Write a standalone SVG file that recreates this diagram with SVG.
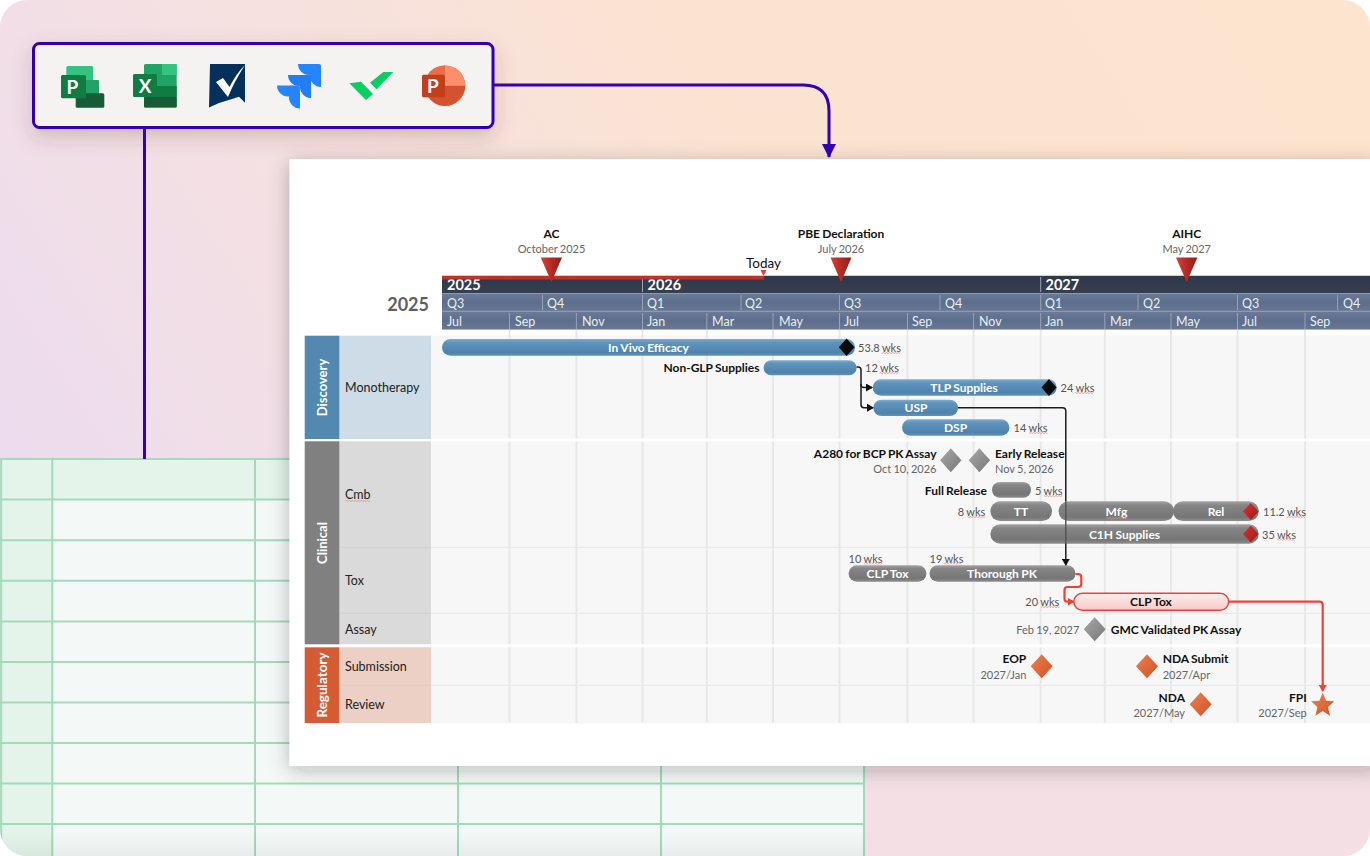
<svg xmlns="http://www.w3.org/2000/svg" width="1370" height="856" viewBox="0 0 1370 856">
<style>
text{font-family:"Lato","Liberation Sans",sans-serif;font-size:12.5px;dominant-baseline:central}
.b{font-weight:700;fill:#111;font-size:12px;word-spacing:-.7px}
.g{fill:#666;font-size:11px;word-spacing:-.5px}
.d{fill:#555;font-size:11px;word-spacing:-.4px}
.w{fill:#fff;text-anchor:middle;font-weight:700;font-size:12px;word-spacing:-.5px}
.m{text-anchor:middle}
.e{text-anchor:end}
.hd{fill:#e6f0f2;font-size:12.5px}
.yr{fill:#fff;font-weight:700;font-size:14.5px}
.rl{fill:#222;font-size:12.5px}
.cat{fill:#fff;font-weight:700;font-size:13px;text-anchor:middle}
.sq{fill:url(#wv)}
.tl{stroke:#a1dbb9;stroke-width:2;fill:none}
.grid{stroke:#e7e8e9;stroke-width:2;fill:none}
.sep{stroke:#e3e8e8;stroke-width:1;fill:none}
.ln{stroke:#9aa3b4;stroke-width:1;fill:none}
.blue{fill:url(#gb)}
.gray{fill:url(#gg)}
.k{fill:none;stroke:#1c1c1c;stroke-width:1.5}
.r{fill:none;stroke:#ee4236;stroke-width:2.2}
.vi{fill:none;stroke:#3300b3;stroke-width:3}
.tri{fill:url(#gt)}
.dg{fill:url(#gd)}
.do{fill:url(#go)}
.dr{fill:url(#gr)}
</style>
<defs>
<clipPath id="page"><rect width="1370" height="856" rx="27"/></clipPath>
<pattern id="wv" width="3" height="2" patternUnits="userSpaceOnUse"><path d="M0 1.500L1.500 .5L3 1.500" fill="none" stroke="#e58a8a" stroke-width=".8"/></pattern>
<linearGradient id="bg" x1="0" y1="0.62" x2="1" y2="0.22"><stop offset="0" stop-color="#ebdbef"/><stop offset=".3" stop-color="#f4e0e3"/><stop offset=".62" stop-color="#fbe3d2"/><stop offset="1" stop-color="#fde4cf"/></linearGradient>
<linearGradient id="bg2" x1="0" y1="0" x2="0" y2="1"><stop offset=".55" stop-color="#f4e0e4" stop-opacity="0"/><stop offset=".9" stop-color="#f4e0e4"/></linearGradient>
<linearGradient id="tf" x1="0" y1="0" x2="0" y2="1"><stop offset="0" stop-color="#000" stop-opacity="0"/><stop offset="1" stop-color="#000" stop-opacity=".05"/></linearGradient>
<linearGradient id="gb" x1="0" y1="0" x2="0" y2="1"><stop offset="0" stop-color="#7cafd3"/><stop offset=".2" stop-color="#5f95bd"/><stop offset=".8" stop-color="#5083ab"/><stop offset="1" stop-color="#5f92b8"/></linearGradient>
<linearGradient id="gg" x1="0" y1="0" x2="0" y2="1"><stop offset="0" stop-color="#a5a5a5"/><stop offset=".2" stop-color="#858585"/><stop offset=".8" stop-color="#767676"/><stop offset="1" stop-color="#8e8e8e"/></linearGradient>
<linearGradient id="gp" x1="0" y1="0" x2="0" y2="1"><stop offset="0" stop-color="#fdeeee"/><stop offset="1" stop-color="#f8c9c7"/></linearGradient>
<linearGradient id="gt" x1="0" y1="0" x2="1" y2="0"><stop offset="0" stop-color="#d3423a"/><stop offset=".5" stop-color="#b52a24"/><stop offset="1" stop-color="#8d1e1a"/></linearGradient>
<linearGradient id="gd" x1="0" y1="0" x2="1" y2="1"><stop offset="0" stop-color="#a8a8a8"/><stop offset="1" stop-color="#777"/></linearGradient>
<linearGradient id="go" x1="0" y1="0" x2="1" y2="1"><stop offset="0" stop-color="#ee8150"/><stop offset="1" stop-color="#cf5228"/></linearGradient>
<linearGradient id="gr" x1="0" y1="0" x2="1" y2="1"><stop offset="0" stop-color="#d83232"/><stop offset="1" stop-color="#a01818"/></linearGradient>
<linearGradient id="gy" x1="0" y1="0" x2="0" y2="1"><stop offset="0" stop-color="#2f384a"/><stop offset="1" stop-color="#363f50"/></linearGradient>
<linearGradient id="gq" x1="0" y1="0" x2="0" y2="1"><stop offset="0" stop-color="#6a7a98"/><stop offset=".5" stop-color="#5d6d8c"/><stop offset="1" stop-color="#677794"/></linearGradient>
<filter id="sh1" x="-20%" y="-40%" width="140%" height="190%"><feDropShadow dx="0" dy="8" stdDeviation="10" flood-color="#5a3a3a" flood-opacity=".22"/></filter>
<filter id="sh2" x="-6%" y="-6%" width="112%" height="112%"><feDropShadow dx="0" dy="4" stdDeviation="10" flood-color="#222" flood-opacity=".27"/></filter>
<marker id="ak" markerWidth="7" markerHeight="8" refX="6" refY="4" orient="auto" markerUnits="userSpaceOnUse"><path d="M0 0L7 4L0 8z" fill="#111"/></marker>
<marker id="ar" markerWidth="7" markerHeight="8" refX="6" refY="4" orient="auto" markerUnits="userSpaceOnUse"><path d="M0 0L7 4L0 8z" fill="#ee4236"/></marker>
<marker id="av" markerWidth="15" markerHeight="14" refX="13" refY="7" orient="auto" markerUnits="userSpaceOnUse"><path d="M0 0L14 7L0 14z" fill="#3300b3"/></marker>
<path id="jira" d="M298 64C298 70 303 75 309 75H310V76C310 82 315 87 321 87V66Q321 64 319 64Z"/>
</defs>
<g clip-path="url(#page)">
<g id="background"><rect width="1370" height="856" fill="url(#bg)"/><rect width="1370" height="856" fill="url(#bg2)"/></g>
<g id="spreadsheet">
<rect x="1" y="459" width="863" height="397" fill="#f4f9f7"/>
<rect x="1" y="459" width="863" height="40.500" fill="#e4f4ea"/>
<rect x="1" y="459" width="51" height="397" fill="#e4f4ea"/>
<path class="tl" d="M0 459H864M0 499.600H864M0 540.200H864M0 580.800H864M0 621.400H864M0 662H864M0 702.500H864M0 743H864M0 783.500H864M0 824H864M1.200 459V856M52.300 459V856M255 459V856M458 459V856M661 459V856M864 459V856"/>
<rect x="0" y="830" width="865" height="26" fill="url(#tf)"/>
</g>
<g id="connectors-top">
<path d="M144.500 128V459" class="vi"/>
<path d="M493 85H803Q829 85 829 111V157" class="vi" marker-end="url(#av)"/>
</g>
<g id="toolbar">
<rect x="33.500" y="43.500" width="459.500" height="84" rx="6" fill="#f5f3f1" stroke="#3300b3" stroke-width="3" filter="url(#sh1)"/>
<g id="icon-project"><rect x="66.300" y="66" width="27" height="25" rx="1.500" fill="#33c481"/><rect x="76" y="80" width="23" height="15" rx="1" fill="#21a366"/><rect x="75.700" y="93.300" width="28.600" height="14.400" rx="1.500" fill="#185c37"/><rect x="61" y="75" width="25" height="23.300" rx="1.500" fill="#107c41"/><text x="72.500" y="86.500" style="font-size:19px;font-weight:700;fill:#fff;text-anchor:middle">P</text></g>
<g id="icon-excel"><rect x="144" y="64" width="32.700" height="43.500" rx="1.500" fill="#21a366"/><rect x="162" y="64" width="14.700" height="11" fill="#33c481"/><rect x="144" y="86" width="32.700" height="11" fill="#107c41"/><rect x="144" y="97" width="32.700" height="10.500" rx="1" fill="#185c37"/><rect x="133" y="74" width="24" height="23" rx="1.500" fill="#107c41"/><text x="145" y="85.500" style="font-size:19px;font-weight:700;fill:#fff;text-anchor:middle">X</text></g>
<g id="icon-smartsheet"><path d="M210 64H245V102.700L239 96.700L232 99Q220 102 209 107.500Z" fill="#06305c"/><path d="M216 82L223 78L229.500 87Q236 74 245 65Q234 82 228 97Z" fill="#fff"/></g>
<g id="icon-jira" fill="#2684ff"><use href="#jira"/><use href="#jira" x="-10" y="11" fill="#217cf5"/><use href="#jira" x="-21" y="21.500"/></g>
<g id="icon-wrike"><path d="M349.300 83.300L361 81.700L373 94L366 100Z" fill="#08cf65"/><path d="M383.300 72H393.300L376.700 89.300L370 82.700Z" fill="#08cf65"/></g>
<g id="icon-powerpoint"><circle cx="445" cy="85.700" r="20.300" fill="#d35230"/><path d="M445 65.400A20.300 20.300 0 0 1 465.300 85.700H445Z" fill="#ff8f6b"/><path d="M445 65.400A20.300 20.300 0 0 0 424.700 85.700H445Z" fill="#ed6c47"/><rect x="422" y="74.700" width="23" height="22.600" rx="1.500" fill="#c43e1c"/><text x="433" y="85.500" style="font-size:19px;font-weight:700;fill:#fff;text-anchor:middle">P</text></g>
</g>
<g id="panel"><rect x="289.500" y="159" width="1090" height="607" fill="#fff" filter="url(#sh2)"/></g>
<g id="grid">
<rect x="431" y="335.500" width="939" height="388" fill="#f7f7f7"/>
<path class="grid" d="M509.500 330V723M576.400 330V723M642.500 330V723M706.800 330V723M773 330V723M839.500 330V723M907.500 330V723M973.600 330V723M1040.700 330V723M1104.800 330V723M1171 330V723M1237.500 330V723M1305 330V723"/>
<path d="M304 440H1370M304 645.700H1370" stroke="#fff" stroke-width="3"/>
<path class="sep" d="M340 547.300H1370M340 613.300H1370M340 685.300H1370"/>
</g>
<g id="timescale">
<rect x="442" y="275.500" width="928" height="54" fill="#98a2b4"/>
<rect x="442" y="276" width="928" height="17" fill="url(#gy)"/>
<rect x="442" y="293.800" width="928" height="17" fill="url(#gq)"/>
<rect x="442" y="311.800" width="928" height="17.500" fill="url(#gq)"/>
<path class="ln" d="M642.500 277V292M1040.700 277V292M542.500 295V310M642.500 295V310M741 295V310M839.500 295V310M940 295V310M1040.700 295V310M1138 295V310M1237.500 295V310M1337.600 295V310M509.500 313V329M576.400 313V329M642.500 313V329M706.800 313V329M773 313V329M839.500 313V329M907.500 313V329M973.600 313V329M1040.700 313V329M1104.800 313V329M1171 313V329M1237.500 313V329M1305 313V329"/>
<text class="yr" x="447" y="284.500">2025</text><text class="yr" x="647.500" y="284.500">2026</text><text class="yr" x="1045.500" y="284.500">2027</text>
<text class="hd" x="447" y="303">Q3</text><text class="hd" x="547" y="303">Q4</text><text class="hd" x="647" y="303">Q1</text><text class="hd" x="745" y="303">Q2</text><text class="hd" x="844" y="303">Q3</text><text class="hd" x="945" y="303">Q4</text><text class="hd" x="1045" y="303">Q1</text><text class="hd" x="1143" y="303">Q2</text><text class="hd" x="1242" y="303">Q3</text><text class="hd" x="1343" y="303">Q4</text>
<text class="hd" x="447" y="321">Jul</text><text class="hd" x="515" y="321">Sep</text><text class="hd" x="582" y="321">Nov</text><text class="hd" x="647" y="321">Jan</text><text class="hd" x="712" y="321">Mar</text><text class="hd" x="779" y="321">May</text><text class="hd" x="844" y="321">Jul</text><text class="hd" x="912" y="321">Sep</text><text class="hd" x="979" y="321">Nov</text><text class="hd" x="1045" y="321">Jan</text><text class="hd" x="1110" y="321">Mar</text><text class="hd" x="1176" y="321">May</text><text class="hd" x="1242" y="321">Jul</text><text class="hd" x="1310" y="321">Sep</text>
<text x="429" y="304" class="e" style="font-size:18px;font-weight:700;fill:#5f5f5f">2025</text>
</g>
<g id="today"><rect x="442" y="276" width="322" height="3.500" fill="#c2302a"/><path d="M760.500 270H766.500L763.500 276Z" fill="#ee3b30"/><text x="763.500" y="262.500" class="m" style="font-size:13.500px;fill:#111">Today</text></g>
<g id="lanes">
<g id="lane-discovery"><rect x="304.700" y="335.700" width="34.800" height="103.300" fill="#5388b1"/><rect x="340" y="335.700" width="91" height="103.300" fill="#cddce6"/><text class="cat" transform="translate(322 387.500) rotate(-90)">Discovery</text><text class="rl" x="345" y="387">Monotherapy</text></g>
<g id="lane-clinical"><rect x="304.700" y="441.300" width="34.800" height="203" fill="#808080"/><rect x="340" y="441.300" width="91" height="203" fill="#dadada"/><path d="M340 547.300H431M340 613.300H431" stroke="#cfd2d2"/><text class="cat" transform="translate(322 543) rotate(-90)">Clinical</text><text class="rl" x="345" y="494">Cmb</text><rect class="sq" x="345.300" y="500" width="24.700" height="2"/><text class="rl" x="345" y="580">Tox</text><text class="rl" x="345" y="629">Assay</text></g>
<g id="lane-regulatory"><rect x="304.700" y="647.300" width="34.800" height="75.700" fill="#d35c35"/><rect x="340" y="647.300" width="91" height="75.700" fill="#eccfc5"/><path d="M340 685.300H431" stroke="#e3c8c2"/><text class="cat" transform="translate(322 685) rotate(-90)" style="font-size:13.500px">Regulatory</text><text class="rl" x="345" y="666">Submission</text><text class="rl" x="345" y="704">Review</text></g>
</g>
<g id="milestones-top">
<g id="ms-ac"><text class="b m" x="551.500" y="233">AC</text><text class="g m" x="551.500" y="248">October 2025</text><path class="tri" d="M540.700 257.500H562L551.500 282Z"/></g>
<g id="ms-pbe"><text class="b m" x="841" y="233">PBE Declaration</text><text class="g m" x="841" y="248">July 2026</text><path class="tri" d="M830.500 257.500H851.500L841 282Z"/></g>
<g id="ms-aihc"><text class="b m" x="1186.700" y="233">AIHC</text><text class="g m" x="1186.700" y="248">May 2027</text><path class="tri" d="M1176 257.500H1197.400L1186.700 282Z"/></g>
</g>
<g id="tasks">
<g id="t-invivo"><rect class="blue" x="442" y="339" width="413" height="16.700" rx="8.300"/><text class="w" x="648.500" y="347.500">In Vivo Efficacy</text><path d="M846.600 338.500L854.400 347.300L846.600 356L838.800 347.300Z" fill="#0a0a0a"/><text class="d" x="858" y="347.500">53.8 wks</text><rect class="sq" x="881.600" y="352" width="18.400" height="2"/></g>
<g id="t-nonglp"><text class="b e" x="759.500" y="367">Non-GLP Supplies</text><rect class="blue" x="763.600" y="360.300" width="93" height="15" rx="7.500"/><text class="d" x="865" y="367.500">12 wks</text><rect class="sq" x="879.600" y="372" width="18.400" height="2"/></g>
<g id="t-tlp"><rect class="blue" x="872.700" y="379.300" width="184" height="16.400" rx="8.200"/><text class="w" x="964" y="387.500">TLP Supplies</text><path d="M1049 379L1056.500 387.500L1049 396L1041.500 387.500Z" fill="#0a0a0a"/><text class="d" x="1060.600" y="387.500">24 wks</text><rect class="sq" x="1075" y="392" width="18.400" height="2"/></g>
<g id="t-usp"><rect class="blue" x="873.400" y="399.700" width="84.600" height="16.300" rx="8.100"/><text class="w" x="916" y="407.500">USP</text></g>
<g id="t-dsp"><rect class="blue" x="902" y="419.300" width="107.400" height="16.400" rx="8.200"/><text class="w" x="955.500" y="427.500">DSP</text><text class="d" x="1013.600" y="427.500">14 wks</text><rect class="sq" x="1029" y="432" width="18.400" height="2"/></g>
<g id="m-a280"><text class="b e" x="936.500" y="453">A280 for BCP PK Assay</text><text class="g e" x="936.500" y="468">Oct 10, 2026</text><path class="dg" d="M950.800 448.300L961.500 460.300L950.800 472.300L940.100 460.300Z"/></g>
<g id="m-early"><path class="dg" d="M979.400 448.300L990.100 460.300L979.400 472.300L968.700 460.300Z"/><text class="b" x="995" y="453">Early Release</text><text class="g" x="995" y="468">Nov 5, 2026</text></g>
<g id="t-full"><text class="b e" x="987" y="490">Full Release</text><rect class="gray" x="992" y="482" width="39" height="15.700" rx="7.800"/><text class="d" x="1035" y="490">5 wks</text><rect class="sq" x="1043.800" y="495" width="18.600" height="2"/></g>
<g id="t-tt"><text class="d e" x="985.300" y="511.500">8 wks</text><rect class="sq" x="967.400" y="516" width="17.900" height="2"/><rect class="gray" x="990.400" y="501.300" width="61.600" height="19.700" rx="9.800"/><text class="w" x="1021" y="511">TT</text></g>
<g id="t-mfg"><rect class="gray" x="1058.600" y="501.300" width="115.400" height="19.700" rx="9.800"/><text class="w" x="1116.500" y="511">Mfg</text><rect class="sq" x="1106" y="517" width="21" height="2"/></g>
<g id="t-rel"><rect class="gray" x="1173" y="501.300" width="85.700" height="19.700" rx="9.800"/><text class="w" x="1216" y="511">Rel</text><path class="dr" d="M1250.800 503L1258.600 511.500L1250.800 520L1243 511.500Z"/><text class="d" x="1263" y="511.500">11.2 wks</text><rect class="sq" x="1286.600" y="516" width="18.400" height="2"/></g>
<g id="t-c1h"><rect class="gray" x="990.400" y="524.300" width="268.300" height="19.400" rx="9.700"/><text class="w" x="1124.500" y="534">C1H Supplies</text><path class="dr" d="M1250.800 525.500L1258.600 534L1250.800 542.500L1243 534Z"/><text class="d" x="1262" y="534">35 wks</text><rect class="sq" x="1276.600" y="538.500" width="18.200" height="2"/></g>
<g id="t-clptox1"><text class="d" x="848.600" y="558">10 wks</text><rect class="sq" x="863.700" y="562.500" width="18.300" height="2"/><rect class="gray" x="848.600" y="565.300" width="77.800" height="16.400" rx="8.200"/><text class="w" x="887.500" y="573.500">CLP Tox</text></g>
<g id="t-thorough"><text class="d" x="929.500" y="558">19 wks</text><rect class="sq" x="944" y="562.500" width="18" height="2"/><rect class="gray" x="929.500" y="565.300" width="146" height="16.400" rx="8.200"/><text class="w" x="1002" y="573.500">Thorough PK</text></g>
<g id="t-clptox2"><text class="d e" x="1059.300" y="601.700">20 wks</text><rect class="sq" x="1041" y="606" width="18.300" height="2"/><rect x="1073.800" y="593.300" width="154.900" height="17" rx="8.500" fill="url(#gp)" stroke="#e8453c" stroke-width="1.500"/><text class="b m" x="1151" y="601.500">CLP Tox</text></g>
<g id="m-gmc"><text class="g e" x="1079.300" y="629">Feb 19, 2027</text><path class="dg" d="M1094.700 617.300L1105.700 629.300L1094.700 641.300L1083.700 629.300Z"/><text class="b" x="1110.700" y="629">GMC Validated PK Assay</text></g>
<g id="m-eop"><text class="b e" x="1026.300" y="658.700">EOP</text><text class="g e" x="1026.300" y="674">2027/Jan</text><path class="do" d="M1041.700 654.300L1052.700 666.300L1041.700 678.300L1030.700 666.300Z"/></g>
<g id="m-nda-submit"><path class="do" d="M1147 654.300L1158 666.300L1147 678.300L1136 666.300Z"/><text class="b" x="1162.700" y="658.700">NDA Submit</text><text class="g" x="1162.700" y="674">2027/Apr</text></g>
<g id="m-nda"><text class="b e" x="1185" y="697">NDA</text><text class="g e" x="1185" y="712">2027/May</text><path class="do" d="M1200.700 692.300L1211.700 704.300L1200.700 716.300L1189.700 704.300Z"/></g>
<g id="m-fpi"><text class="b e" x="1306.700" y="697">FPI</text><text class="g e" x="1306.700" y="712">2027/Sep</text><path class="do" d="M1322.700 692.500L1326 700.700L1334.300 701.300L1328 707L1330 715.800L1322.700 711L1315.400 715.800L1317.400 707L1311.100 701.300L1319.400 700.700Z"/></g>
</g>
<g id="connectors">
<path class="k" d="M856.500 367H858Q861 367 861 370V384.500Q861 387.500 864 387.500H872" marker-end="url(#ak)"/>
<path class="k" d="M861 384V404.500Q861 407.700 864 407.700H873" marker-end="url(#ak)"/>
<path class="k" d="M958 407.700H1062.500Q1065.800 407.700 1065.800 411V501.500"/>
<path d="M1065.800 501.500V543.500" fill="none" stroke="#555" stroke-width="1.500"/>
<path class="k" d="M1065.800 543.500V565" marker-end="url(#ak)"/>
<path class="r" d="M1075.500 574H1078Q1081.300 574 1081.300 577V584Q1081.300 587 1078 587H1067.500Q1064.500 587 1064.500 590V598.700Q1064.500 601.700 1067.500 601.700H1073.500" marker-end="url(#ar)"/>
<path class="r" d="M1228.700 601.700H1319.500Q1322.700 601.700 1322.700 605V691" marker-end="url(#ar)"/>
</g>
</g>
</svg>
